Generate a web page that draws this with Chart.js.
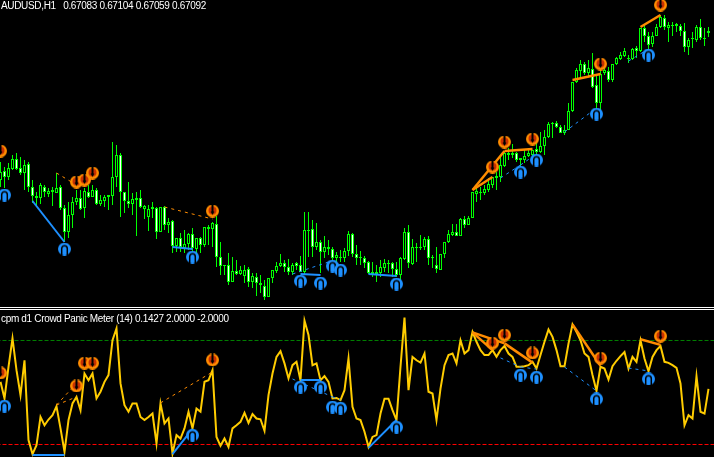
<!DOCTYPE html>
<html>
<head>
<meta charset="utf-8">
<title>AUDUSD,H1</title>
<script src="https://cdn.jsdelivr.net/npm/chart.js@4/dist/chart.umd.js"></script>
<style>
	html, body { margin: 0; padding: 0; background: #000; overflow: hidden; }
	#wrap { position: relative; width: 714px; height: 457px; background: #000; }
	canvas { position: absolute; left: 0; display: block; }
	#priceCanvas { top: 0; }
	#meterCanvas { top: 310px; }
	.sep { position: absolute; left: 0; width: 714px; height: 1px; background: #fff; }
	.label { position: absolute; left: 0; color: #fff; font: 10px "Liberation Sans", sans-serif; letter-spacing: -0.33px; white-space: pre; line-height: 14px; }
</style>
</head>
<body>
<div id="wrap">
	<canvas id="priceCanvas" width="714" height="307"></canvas>
	<div class="sep" style="top:307px"></div>
	<div class="sep" style="top:309px"></div>
	<canvas id="meterCanvas" width="714" height="147"></canvas>
	<div class="label" style="top:-1px;left:1px">AUDUSD,H1   0.67083 0.67104 0.67059 0.67092</div>
	<div class="label" style="top:312px;left:1px">cpm d1 Crowd Panic Meter (14) 0.1427 2.0000 -2.0000</div>
</div>
<script>
// prices are in points, 66300 means 0.66300
var opens = [66350,66395,66365,66405,66455,66410,66385,66430,66315,66270,66260,66315,66280,66300,66285,66315,66210,66090,66175,66240,
	66260,66210,66290,66265,66300,66230,66245,66265,66270,66365,66475,66290,66245,66230,66260,66260,66205,66165,66205,66210,
	66090,66215,66125,66145,66020,66060,66010,66030,66080,66005,66060,66025,66105,66105,66130,65965,65920,65925,65840,65895,
	65880,65870,65905,65840,65865,65835,65820,65765,65860,65895,65920,65935,65915,65890,65935,65925,65890,66100,66105,66015,
	66040,65990,66015,66005,65960,65965,65960,65995,66080,65980,65965,65960,65940,65890,65890,65885,65910,65935,65935,65905,
	65875,65955,66090,65930,66010,66010,66015,66055,65965,65925,65900,65980,66040,66075,66090,66070,66155,66125,66160,66280,
	66285,66285,66300,66325,66370,66365,66420,66485,66485,66485,66450,66450,66470,66475,66505,66490,66520,66565,66630,66635,
	66615,66585,66600,66695,66840,66895,66930,66885,66905,66825,66735,66885,66895,66850,66930,66955,66970,66960,66955,67010,
	66995,67110,67070,67030,67070,67115,67160,67110,67125,67120,67120,67095,67015,67060,67050,67115,67060,67085];
var highs = [66440,66415,66435,66475,66485,66465,66450,66440,66350,66290,66335,66325,66310,66315,66385,66325,66225,66240,66265,66300,
	66300,66310,66325,66325,66310,66275,66275,66275,66540,66525,66485,66290,66340,66285,66290,66300,66225,66225,66240,66215,
	66215,66220,66160,66150,66060,66085,66100,66085,66110,66060,66065,66115,66125,66140,66170,66040,65925,65985,65965,65950,
	65920,65925,65915,65885,65885,65875,65850,65860,65900,65940,65980,65950,65955,65935,65940,65970,66190,66190,66150,66135,
	66050,66070,66050,66015,65990,66000,66010,66095,66085,66025,65995,65970,65945,65940,65925,65950,65955,65950,65940,65940,
	65965,66110,66125,66055,66035,66075,66065,66070,65975,66015,65980,66040,66100,66130,66130,66160,66170,66170,66290,66310,
	66315,66325,66360,66365,66390,66465,66490,66510,66530,66490,66460,66500,66510,66500,66535,66590,66600,66640,66640,66645,
	66625,66625,66735,66840,66910,66950,66940,66950,66985,66875,66935,66925,66915,66930,66965,66990,67010,66975,67010,67020,
	67110,67125,67090,67090,67130,67175,67175,67140,67140,67135,67130,67135,67060,67090,67125,67155,67110,67115];
var lows = [66315,66310,66350,66400,66400,66375,66300,66290,66235,66225,66230,66265,66265,66220,66285,66200,66040,66060,66110,66225,
	66200,66160,66260,66265,66225,66220,66215,66200,66225,66315,66165,66185,66210,66175,66070,66210,66155,66095,66160,66055,
	66090,66100,66085,65985,65990,65990,65985,66000,65990,65985,65985,66015,66025,66015,65915,65875,65875,65825,65840,65875,
	65875,65835,65815,65810,65770,65785,65750,65765,65835,65885,65915,65890,65875,65875,65900,65890,65875,65965,65965,66000,
	65885,65960,65975,65925,65940,65940,65940,65970,65965,65925,65925,65910,65880,65865,65840,65865,65890,65885,65865,65865,
	65850,65950,65910,65925,65940,66000,66000,65925,65910,65885,65900,65960,66035,66070,66070,66070,66110,66125,66160,66240,
	66250,66275,66290,66310,66300,66340,66415,66450,66460,66440,66415,66435,66465,66460,66475,66485,66475,66560,66560,66610,
	66585,66575,66600,66690,66835,66860,66875,66865,66810,66710,66700,66875,66840,66840,66925,66950,66965,66935,66950,66960,
	66990,67040,67000,67015,67070,67110,67100,67040,67070,67090,67070,66990,66975,67010,67040,67050,67020,67065];
var closes = [66390,66365,66410,66455,66405,66385,66425,66315,66270,66260,66325,66290,66295,66290,66310,66210,66090,66175,66240,66260,
	66205,66295,66265,66300,66230,66250,66265,66275,66365,66475,66290,66245,66230,66255,66250,66215,66220,66205,66215,66090,
	66215,66125,66140,66020,66060,66015,66030,66080,66010,66060,66025,66115,66115,66135,65965,65920,65925,65840,65895,65880,
	65900,65900,65840,65870,65835,65825,65765,65860,65900,65920,65935,65915,65890,65925,65920,65890,66100,66095,66015,66040,
	65990,66015,66005,65960,65975,65960,65995,66080,65980,65960,65960,65935,65885,65880,65880,65915,65935,65930,65905,65875,
	65960,66090,65935,66015,66015,66015,66055,65960,65960,65905,65980,66040,66080,66090,66070,66155,66125,66160,66290,66295,
	66290,66305,66330,66365,66360,66425,66485,66475,66475,66450,66460,66470,66485,66500,66490,66520,66565,66630,66635,66615,
	66585,66600,66695,66840,66900,66930,66885,66910,66815,66735,66880,66900,66850,66930,66960,66975,66995,66955,67005,66995,
	67110,67070,67025,67070,67115,67165,67115,67125,67120,67130,67095,67015,67050,67055,67115,67060,67055,67095];

// meter value for each candle
var meter = [0.41,-0.23,0.99,2.08,0.86,-0.10,1.24,-1.83,-2.37,-2.03,-0.94,-1.26,-1.04,-0.87,-0.53,-1.38,-2.28,-1.06,-0.42,-0.17,
	-0.68,0.73,0.47,0.73,-0.23,0.03,0.41,0.67,2.01,2.46,0.35,-0.49,-0.74,-0.42,-0.42,-0.94,-1.06,-0.94,-0.81,-1.96,
	-0.42,-1.19,-1.00,-2.35,-1.64,-1.77,-1.38,-0.74,-1.38,-0.62,-0.74,0.41,0.47,0.86,-1.71,-2.05,-1.77,-2.09,-1.38,-1.26,
	-1.13,-0.78,-1.17,-0.83,-1.00,-1.03,-1.47,-0.10,0.73,1.37,1.59,1.12,0.54,1.05,1.18,0.47,2.76,2.21,1.05,1.12,
	0.47,0.63,0.41,-0.23,-0.21,-0.29,0.09,1.31,-0.55,-1.00,-1.06,-1.51,-2.09,-1.71,-1.64,-0.81,-0.24,-0.24,-0.68,-1.06,
	0.99,2.88,0.09,1.37,1.24,1.15,1.50,0.03,-0.04,-1.06,0.15,1.05,1.44,1.50,1.12,2.01,1.50,1.63,2.33,1.95,
	1.63,1.44,1.44,1.63,1.37,1.63,1.79,1.50,1.37,0.99,0.99,1.01,1.05,1.18,0.92,1.44,1.95,2.42,2.14,1.63,
	1.01,1.01,1.88,2.62,2.33,2.01,1.50,1.37,0.67,0.06,0.99,0.92,0.50,1.01,1.22,1.40,1.56,0.92,1.37,1.18,
	2.01,1.31,0.82,1.37,1.63,1.79,1.18,1.14,1.05,0.95,0.35,-1.26,-0.87,-1.00,0.63,-0.74,-0.81,0.14];

var meterLevels = [2, -2];

// arrow signals, bar index and value
var priceSellBars = [0,19,21,23,53,123,126,133,150,165];
var priceSellValues = [66495,66340,66350,66385,66195,66415,66540,66555,66930,67225];
var priceBuyBars = [1,16,48,75,80,83,85,99,130,134,149,162];
var priceBuyValues = [66275,66005,65965,65845,65835,65920,65900,65830,66390,66450,66680,66975];
var meterSellBars = [0,19,21,23,53,123,126,133,150,165];
var meterSellValues = [0.75,0.25,1.13,1.13,1.25,1.90,2.21,1.52,1.32,2.17];
var meterBuyBars = [1,48,75,80,83,85,99,130,134,149,162];
var meterBuyValues = [-0.52,-1.64,0.21,0.21,-0.56,-0.60,-1.33,0.67,0.59,-0.25,0.52];

// trend lines, each one is bar, value, bar, value
var priceOrangeSolid = [[118,66300,126,66495],[126,66495,133,66505],[118,66300,123,66365],[143,66850,150,66880],[160,67115,165,67175]];
var priceOrangeDash = [[14,66385,19,66325],[19,66310,23,66360],[41,66215,53,66155]];
var priceBlueSolid = [[8,66245,16,66040],[43,66015,48,66005],[75,65880,80,65875],[92,65880,99,65870]];
var priceBlueDash = [[73,65880,82,65940],[82,65940,85,65930],[125,66360,130,66425],[130,66425,134,66480],[141,66590,149,66710],[157,66945,162,67005]];
var meterOrangeSolid = [[118,2.31,126,1.89],[126,1.89,133,1.15],[118,2.31,123,1.63],[143,2.62,150,1.03],[160,2.05,165,1.83]];
var meterOrangeDash = [[14,-0.48,20,0.52],[14,-0.48,19,-0.17],[40,-0.40,53,0.79]];
var meterBlueSolid = [[8,-2.40,16,-2.40],[43,-2.37,48,-1.40],[75,0.48,80,0.48],[92,-2.13,99,-1.06]];
var meterBlueDash = [[73,0.52,83,-0.17],[83,-0.17,85,-0.29],[125,1.33,130,0.98],[130,0.98,134,0.90],[141,0.98,149,0.06],[157,0.94,162,0.83]];

var ORANGE = "#ff8c00";
var BLUE = "#1e90ff";
var GREEN = "#00ff00";
var GOLD = "#ffcc00";

// the arrow icons
function makeArrow(color, inner, up) {
	var c = document.createElement("canvas");
	c.width = 13;
	c.height = 13;
	var g = c.getContext("2d");
	g.fillStyle = color;
	g.beginPath();
	g.arc(6.5, 6.5, 6.5, 0, Math.PI * 2);
	g.fill();
	if (up) {
		g.strokeStyle = "#000";
		g.lineWidth = 1.5;
		g.beginPath();
		g.moveTo(3.7, 13);
		g.lineTo(3.7, 6);
		g.arc(6.5, 6, 2.8, Math.PI, 0);
		g.lineTo(9.3, 13);
		g.stroke();
	} else {
		g.fillStyle = inner;
		g.beginPath();
		g.arc(6.5, 6, 4, 0, Math.PI * 2);
		g.fill();
		g.fillStyle = "#000";
		g.fillRect(5.5, 0, 2, 8);
		g.beginPath();
		g.moveTo(6.5, 10.5);
		g.lineTo(8.5, 7);
		g.lineTo(4.5, 7);
		g.fill();
	}
	return c;
}
var sellIcon = makeArrow(ORANGE, "#c83000", false);
var buyIcon = makeArrow(BLUE, "#1464c8", true);

function points(bars, values) {
	var out = [];
	for (var i in bars) {
		out.push({x: bars[i], y: values[i]});
	}
	return out;
}

function addSegments(list, segments, color, width, dash, order) {
	for (var i in segments) {
		var s = segments[i];
		list.push({
			type: "line",
			data: [{x: s[0], y: s[1]}, {x: s[2], y: s[3]}],
			borderColor: color,
			borderWidth: width,
			borderDash: dash,
			pointRadius: 0,
			tension: 0,
			order: order
		});
	}
}

function addIcons(list, bars, values, icon) {
	list.push({
		type: "line",
		data: points(bars, values),
		showLine: false,
		pointStyle: icon,
		pointRadius: 7,
		order: 0
	});
}

function draw(id, yMin, yMax, datasets) {
	return new Chart(document.getElementById(id), {
		data: {datasets: datasets},
		options: {
			responsive: false,
			animation: false,
			devicePixelRatio: 1,
			layout: {padding: 0, autoPadding: false},
			events: [],
			plugins: {legend: {display: false}, tooltip: {enabled: false}},
			scales: {
				x: {type: "linear", min: -0.125, max: 178.375, offset: false, display: false},
				y: {type: "linear", min: yMin, max: yMax, display: false}
			}
		}
	});
}

// candles
var wickData = [];
var bodyData = [];
var bodyFill = [];
for (var k = 0; k < opens.length; k++) {
	wickData.push({x: k, y: [lows[k], highs[k]]});
	bodyData.push({x: k, y: [opens[k], closes[k]]});
	bodyFill.push(closes[k] >= opens[k] ? "#000" : "#fff");
}

var priceSets = [
	{type: "bar", data: wickData, grouped: false, barThickness: 1, backgroundColor: GREEN, borderWidth: 0, inflateAmount: 0, order: 5},
	{type: "bar", data: bodyData, grouped: false, barThickness: 3, backgroundColor: bodyFill, borderColor: GREEN, borderWidth: 1, borderSkipped: false, inflateAmount: 0, order: 4}
];
addSegments(priceSets, priceOrangeSolid, ORANGE, 2.5, [], 2);
addSegments(priceSets, priceBlueSolid, BLUE, 2, [], 2);
addSegments(priceSets, priceOrangeDash, ORANGE, 1, [3, 4], 3);
addSegments(priceSets, priceBlueDash, BLUE, 1, [3, 4], 3);
addIcons(priceSets, priceSellBars, priceSellValues, sellIcon);
addIcons(priceSets, priceBuyBars, priceBuyValues, buyIcon);

// 1 px on the price chart is 5 points
draw("priceCanvas", 65715, 67250, priceSets);

var meterSets = [
	{type: "line", data: [{x: -1, y: meterLevels[0]}, {x: 179, y: meterLevels[0]}], borderColor: "#008000", borderWidth: 1, borderDash: [4, 2], pointRadius: 0, order: 5},
	{type: "line", data: [{x: -1, y: meterLevels[1]}, {x: 179, y: meterLevels[1]}], borderColor: "#ff0000", borderWidth: 1, borderDash: [4, 2], pointRadius: 0, order: 5},
	{type: "line", data: points(Object.keys(meter).map(Number), meter), borderColor: GOLD, borderWidth: 2, pointRadius: 0, tension: 0, order: 4}
];
addSegments(meterSets, meterOrangeSolid, ORANGE, 2.5, [], 2);
addSegments(meterSets, meterBlueSolid, BLUE, 2, [], 2);
addSegments(meterSets, meterOrangeDash, ORANGE, 1, [3, 4], 3);
addSegments(meterSets, meterBlueDash, BLUE, 1, [3, 4], 3);
addIcons(meterSets, meterSellBars, meterSellValues, sellIcon);
addIcons(meterSets, meterBuyBars, meterBuyValues, buyIcon);

draw("meterCanvas", -2.481, 3.173, meterSets);
</script>
</body>
</html>
